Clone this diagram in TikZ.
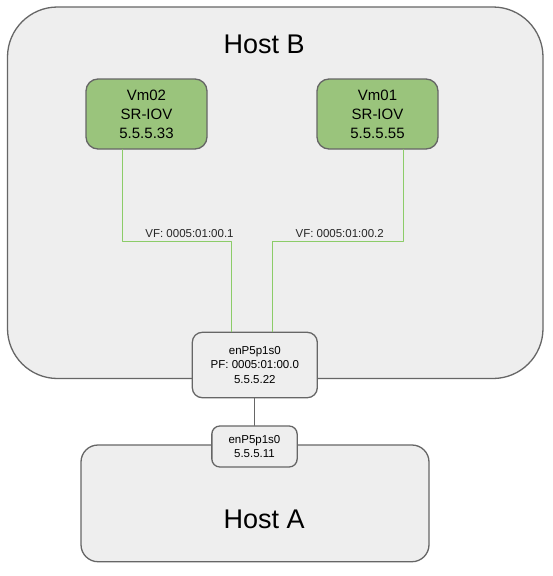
\documentclass[tikz,border=0pt]{standalone}
\usepackage{fontspec}
\setmainfont{Liberation Sans}
\usetikzlibrary{calc}

\definecolor{hostfill}{HTML}{EEEEEE}
\definecolor{boxline}{HTML}{666666}
\definecolor{vmfill}{RGB}{154,196,124}
\definecolor{vfgreen}{RGB}{140,204,104}

\tikzset{
  host/.style={draw=boxline,fill=hostfill,line width=1.3pt,inner sep=0pt},
  vm/.style={draw=boxline,fill=vmfill,line width=1.3pt,rounded corners=12pt,
    minimum width=121pt,minimum height=70pt,inner sep=0pt,align=center,
    font=\fontsize{15}{19}\selectfont},
  nic/.style={draw=boxline,fill=hostfill,line width=1.3pt,inner sep=0pt,align=center,
    font=\fontsize{11.5}{14.4}\selectfont},
  hostlabel/.style={inner sep=0pt,font=\fontsize{27}{30}\selectfont},
  vflabel/.style={inner sep=0pt,text=black!85,font=\fontsize{11.5}{14}\selectfont},
  vfline/.style={draw=vfgreen,line width=1.1pt},
  pfline/.style={draw=boxline,line width=1.3pt}
}

\begin{document}
\begin{tikzpicture}[x=1pt,y=-1pt,line cap=round,line join=round]
\fill[white] (0,0) rectangle (552,576);
\useasboundingbox (0,0) rectangle (552,576);

% the two hosts
\node[host,rounded corners=50pt,minimum width=535.5pt,minimum height=371.5pt]
  (hostb) at (275.25,192.75) {};
\node[host,rounded corners=17pt,minimum width=348pt,minimum height=116.7pt]
  (hosta) at (255,503.35) {};
\node[hostlabel] (hostbname) at (264.2,44.7) {Host B};
\node[hostlabel] (hostaname) at (264.2,519) {Host A};

% virtual machines
\node[vm] (vm02) at (146.5,114) {Vm02\\SR-IOV\\5.5.5.33};
\node[vm] (vm01) at (377.5,114) {Vm01\\SR-IOV\\5.5.5.55};

% physical function on host B, port on host A
\node[nic,rounded corners=10pt,minimum width=125pt,minimum height=65.4pt]
  (pf) at (254.8,365) {enP5p1s0\\PF: 0005:01:00.0\\5.5.5.22};
\node[nic,rounded corners=8pt,minimum width=85.3pt,minimum height=41pt]
  (nic) at (254.5,446.5) {enP5p1s0\\5.5.5.11};

% virtual functions
\draw[vfline] ([xshift=-24pt]vm02.south) -- ++(0,91.5) -| ([xshift=-23.3pt]pf.north);
\draw[vfline] ([xshift=26pt]vm01.south) -- ++(0,91.5) -| ([xshift=17.7pt]pf.north);
\node[vflabel] (vf1) at (189.5,233.3) {VF: 0005:01:00.1};
\node[vflabel] (vf2) at (339.7,233.3) {VF: 0005:01:00.2};

\draw[pfline] (pf.south) -- (pf.south |- nic.north);
\end{tikzpicture}
\end{document}
